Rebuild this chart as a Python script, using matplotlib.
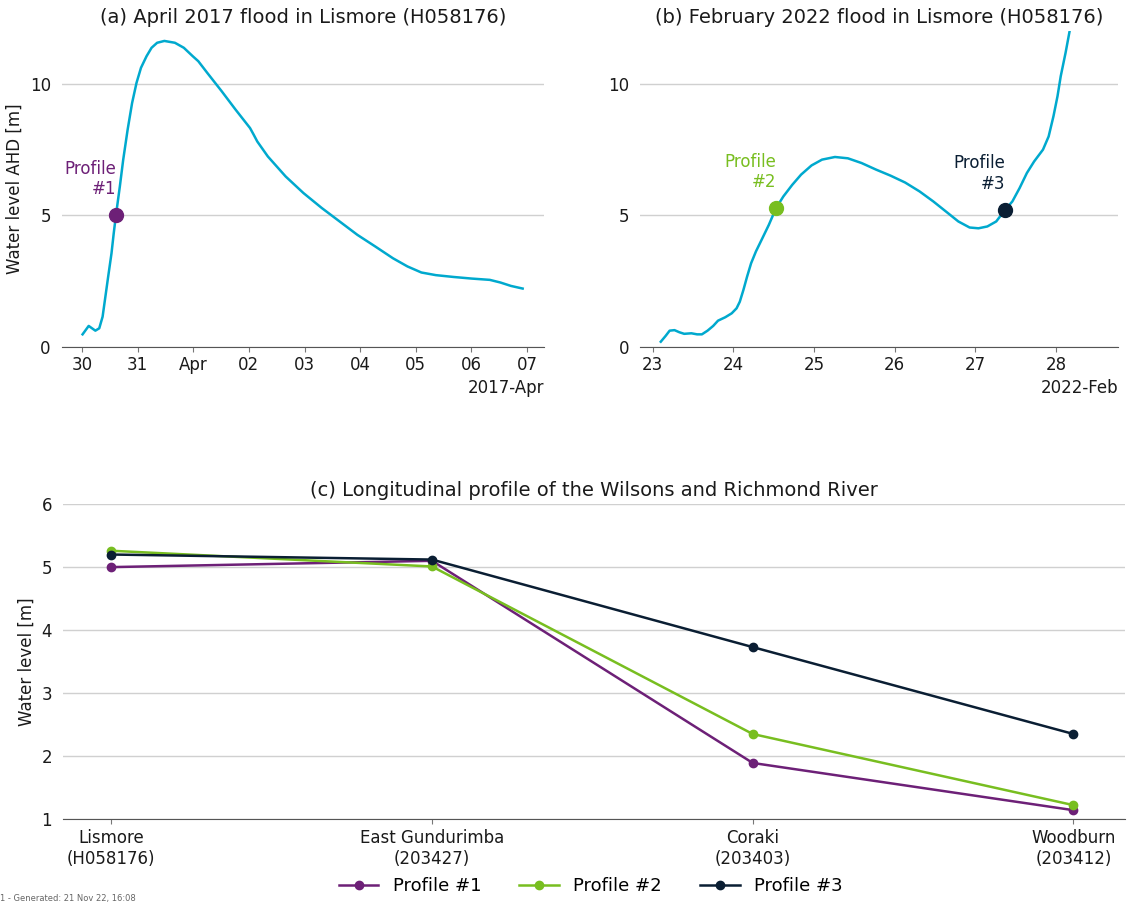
"""Lismore flood hydrographs and longitudinal water level profiles."""

import matplotlib
matplotlib.use("Agg")
import matplotlib.pyplot as plt
import matplotlib.dates as mdates
import pandas as pd

CYAN = "#00A9CE"
PURPLE = "#6D2077"
GREEN = "#78BE20"
NAVY = "#0A1E33"
GRID = "#d0d0d0"
TEXT = "#1a1a1a"

# April 2017 event, days after 2017-03-30 00:00
apr2017_start = pd.Timestamp("2017-03-30 00:00")
apr2017_days = [0.01, 0.12, 0.18, 0.24, 0.31, 0.37, 0.42, 0.47, 0.53, 0.57,
                0.61, 0.68, 0.74, 0.82, 0.90, 0.98, 1.06, 1.16, 1.25, 1.35,
                1.48, 1.67, 1.83, 1.99, 2.09, 2.25, 2.51, 2.76, 3.02, 3.085,
                3.15, 3.34, 3.66, 3.98, 4.31, 4.63, 4.95, 5.27, 5.59, 5.85,
                6.10, 6.36, 6.68, 7.00, 7.33, 7.52, 7.71, 7.92]
apr2017_level = [0.47, 0.79, 0.70, 0.61, 0.70, 1.14, 1.90, 2.66, 3.55, 4.31,
                 5.00, 6.09, 7.10, 8.25, 9.26, 10.03, 10.60, 11.04, 11.36, 11.55,
                 11.62, 11.55, 11.36, 11.04, 10.85, 10.41, 9.71, 9.01, 8.31, 8.06,
                 7.80, 7.23, 6.47, 5.84, 5.27, 4.76, 4.25, 3.81, 3.36, 3.05,
                 2.82, 2.72, 2.65, 2.59, 2.54, 2.44, 2.31, 2.21]

# February 2022 event, days after 2022-02-23 00:00
feb2022_start = pd.Timestamp("2022-02-23 00:00")
feb2022_days = [0.10, 0.16, 0.21, 0.27, 0.33, 0.39, 0.48, 0.55, 0.61, 0.68,
                0.75, 0.81, 0.90, 0.98, 1.04, 1.08, 1.125, 1.17, 1.22, 1.28,
                1.35, 1.44, 1.53, 1.62, 1.73, 1.84, 1.97, 2.10, 2.26, 2.42,
                2.59, 2.77, 2.95, 3.13, 3.31, 3.48, 3.66, 3.79, 3.93, 4.04,
                4.15, 4.26, 4.37, 4.46, 4.55, 4.64, 4.73, 4.84, 4.91, 4.97,
                5.02, 5.06, 5.12, 5.17]
feb2022_level = [0.19, 0.41, 0.61, 0.63, 0.55, 0.49, 0.51, 0.47, 0.47, 0.61,
                 0.79, 0.99, 1.12, 1.27, 1.46, 1.71, 2.16, 2.66, 3.17, 3.62,
                 4.06, 4.63, 5.27, 5.71, 6.15, 6.54, 6.89, 7.11, 7.21, 7.16,
                 6.98, 6.73, 6.50, 6.24, 5.90, 5.52, 5.08, 4.76, 4.53, 4.50,
                 4.57, 4.76, 5.20, 5.52, 6.03, 6.60, 7.04, 7.49, 7.99, 8.76,
                 9.52, 10.28, 11.17, 11.99]

# times (days after event start) at which the profiles were taken
profile1_day, profile1_level = 0.61, 5.00
profile2_day, profile2_level = 1.53, 5.27
profile3_day, profile3_level = 4.37, 5.20

stations = ["Lismore\n(H058176)", "East Gundurimba\n(203427)",
            "Coraki\n(203403)", "Woodburn\n(203412)"]
profile1 = [5.00, 5.10, 1.89, 1.14]
profile2 = [5.26, 5.01, 2.35, 1.22]
profile3 = [5.20, 5.12, 3.73, 2.35]


def to_time(start, days):
    return start + pd.to_timedelta(days, unit="D")


def style_axes(ax):
    for side in ["top", "right", "left"]:
        ax.spines[side].set_visible(False)
    ax.spines["bottom"].set_color("#555555")
    ax.grid(axis="y", color=GRID, linewidth=1)
    ax.set_axisbelow(True)
    ax.tick_params(axis="y", length=0, pad=8, labelsize=12, labelcolor=TEXT)
    ax.tick_params(axis="x", color="#777777", labelsize=12, labelcolor=TEXT)


def hydrograph(ax, start, days, level, title, xlim):
    t = to_time(start, days)
    ax.plot(t, level, color=CYAN, linewidth=1.8)
    ax.set_ylim(0, 12)
    ax.set_yticks([0, 5, 10])
    ax.set_xlim(to_time(start, xlim[0]), to_time(start, xlim[1]))
    loc = mdates.DayLocator()
    ax.xaxis.set_major_locator(loc)
    ax.xaxis.set_major_formatter(mdates.ConciseDateFormatter(loc))
    ax.xaxis.get_offset_text().set_fontsize(12)
    ax.xaxis.get_offset_text().set_color(TEXT)
    ax.set_title(title, fontsize=14, color=TEXT)
    style_axes(ax)


def mark_profile(ax, start, day, level, label, color):
    t = to_time(start, day)
    ax.plot([t], [level], "o", color=color, markersize=10, zorder=5)
    ax.annotate(label, (t, level), xytext=(0, 12), textcoords="offset points",
                ha="right", va="bottom", color=color, fontsize=12,
                multialignment="right")


fig = plt.figure(figsize=(11.27, 9.10), dpi=100)

ax_a = fig.add_axes([0.055, 0.619, 0.428, 0.347])
hydrograph(ax_a, apr2017_start, apr2017_days, apr2017_level,
           "(a) April 2017 flood in Lismore (H058176)", (-0.36, 8.31))
ax_a.set_ylabel("Water level AHD [m]", fontsize=12, color=TEXT)
mark_profile(ax_a, apr2017_start, profile1_day, profile1_level,
             "Profile\n#1", PURPLE)

ax_b = fig.add_axes([0.568, 0.619, 0.424, 0.347])
hydrograph(ax_b, feb2022_start, feb2022_days, feb2022_level,
           "(b) February 2022 flood in Lismore (H058176)", (-0.156, 5.77))
mark_profile(ax_b, feb2022_start, profile2_day, profile2_level,
             "Profile\n#2", GREEN)
mark_profile(ax_b, feb2022_start, profile3_day, profile3_level,
             "Profile\n#3", NAVY)

ax_c = fig.add_axes([0.056, 0.100, 0.942, 0.346])
x = range(len(stations))
ax_c.plot(x, profile1, "-o", color=PURPLE, linewidth=1.8, markersize=6,
          label="Profile #1")
ax_c.plot(x, profile2, "-o", color=GREEN, linewidth=1.8, markersize=6,
          label="Profile #2")
ax_c.plot(x, profile3, "-o", color=NAVY, linewidth=1.8, markersize=6,
          label="Profile #3")
ax_c.set_xticks(list(x))
ax_c.set_xticklabels(stations)
ax_c.set_xlim(-0.15, 3.16)
ax_c.set_ylim(1, 6)
ax_c.set_yticks([1, 2, 3, 4, 5, 6])
ax_c.set_ylabel("Water level [m]", fontsize=12, color=TEXT)
ax_c.set_title("(c) Longitudinal profile of the Wilsons and Richmond River",
               fontsize=14, color=TEXT)
style_axes(ax_c)
ax_c.legend(loc="center", bbox_to_anchor=(0.497, -0.213), ncol=3,
            frameon=False, fontsize=13, columnspacing=2.1, handlelength=2.2)

fig.text(0.0, 0.008, "1 - Generated: 21 Nov 22, 16:08", fontsize=6,
         color="#666666", ha="left", va="bottom")

fig.savefig("out.png", dpi=100)
